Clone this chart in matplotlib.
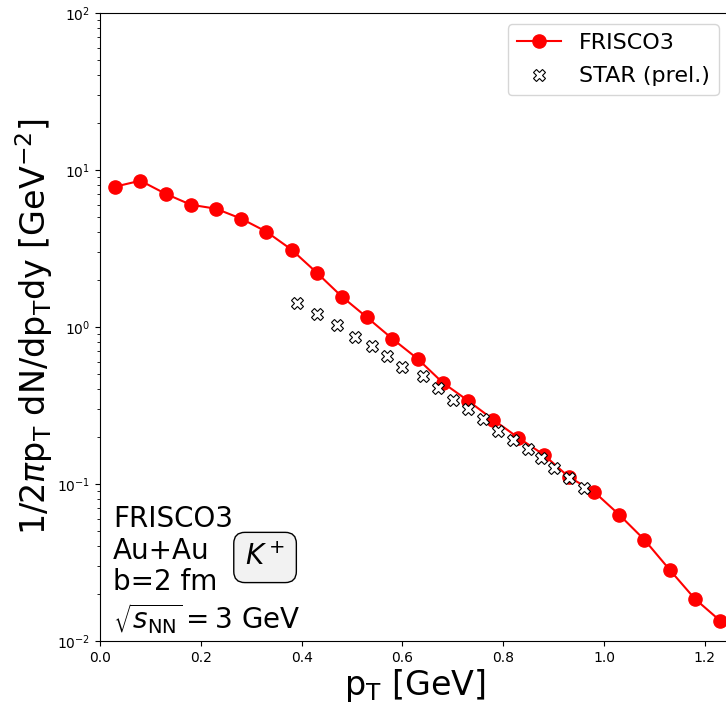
import matplotlib
matplotlib.use('Agg')
import matplotlib.pyplot as plt
import numpy as np

# FRISCO3 model, K+ spectrum
pt_model = [0.03, 0.08, 0.13, 0.18, 0.23, 0.28, 0.33, 0.38, 0.43, 0.48, 0.53, 0.58, 0.63,
            0.68, 0.73, 0.78, 0.83, 0.88, 0.93, 0.98, 1.03, 1.08, 1.13, 1.18, 1.23]
yield_model = [7.83, 8.55, 7.06, 6.01, 5.67, 4.90, 4.05, 3.11, 2.22, 1.56, 1.15, 0.842, 0.628,
               0.442, 0.340, 0.257, 0.197, 0.154, 0.111, 0.0894, 0.0638, 0.0442, 0.0285, 0.0186, 0.0135]

# STAR preliminary data
pt_star = [0.39, 0.43, 0.47, 0.505, 0.54, 0.57, 0.60, 0.64, 0.67, 0.70, 0.73, 0.76, 0.79,
           0.82, 0.85, 0.875, 0.90, 0.93, 0.96]
yield_star = [1.42, 1.21, 1.03, 0.866, 0.759, 0.656, 0.557, 0.489, 0.410, 0.344, 0.301, 0.259,
              0.219, 0.191, 0.167, 0.146, 0.127, 0.109, 0.094]

# annotation lines (bottom-left corner)
info_lines = ['FRISCO3', 'Au+Au', 'b=2 fm', r'$\sqrt{s_{\rm NN}}=3$ GeV']
info_y = [0.1815, 0.1306, 0.0812, 0.0191]

fig = plt.figure(figsize=(7.26, 7.04), dpi=100)
ax = fig.add_axes([100 / 726, 63 / 704, 630 / 726, 628 / 704])

ax.plot(pt_model, yield_model, '-o', color='red', lw=1.5, ms=9.5, label='FRISCO3')
ax.plot(pt_star, yield_star, 'X', ls='none', mfc='white', mec='black', mew=0.8, ms=8,
        label='STAR (prel.)')

ax.set_yscale('log')
ax.set_xlim(0, 1.25)
ax.set_ylim(1e-2, 1e2)
ax.tick_params(labelsize=10)

ax.set_xlabel(r'p$_{\rm T}$ [GeV]', fontsize=24, labelpad=1.5)
ax.set_ylabel(r'1/2$\pi$p$_{\rm T}$ dN/dp$_{\rm T}$dy [GeV$^{-2}$]', fontsize=24, labelpad=1.5)

for txt, yy in zip(info_lines, info_y):
    ax.text(0.0206, yy, txt, transform=ax.transAxes, fontsize=20, ha='left', va='baseline')
ax.text(0.262, 0.133, r'$K^+$', transform=ax.transAxes, fontsize=20, ha='center', va='center',
        bbox=dict(boxstyle='round,pad=0.4', facecolor='#f2f2f2', edgecolor='black'))

ax.legend(loc='upper right', fontsize=16, labelspacing=0.6)

plt.savefig('out.png', dpi=100)
